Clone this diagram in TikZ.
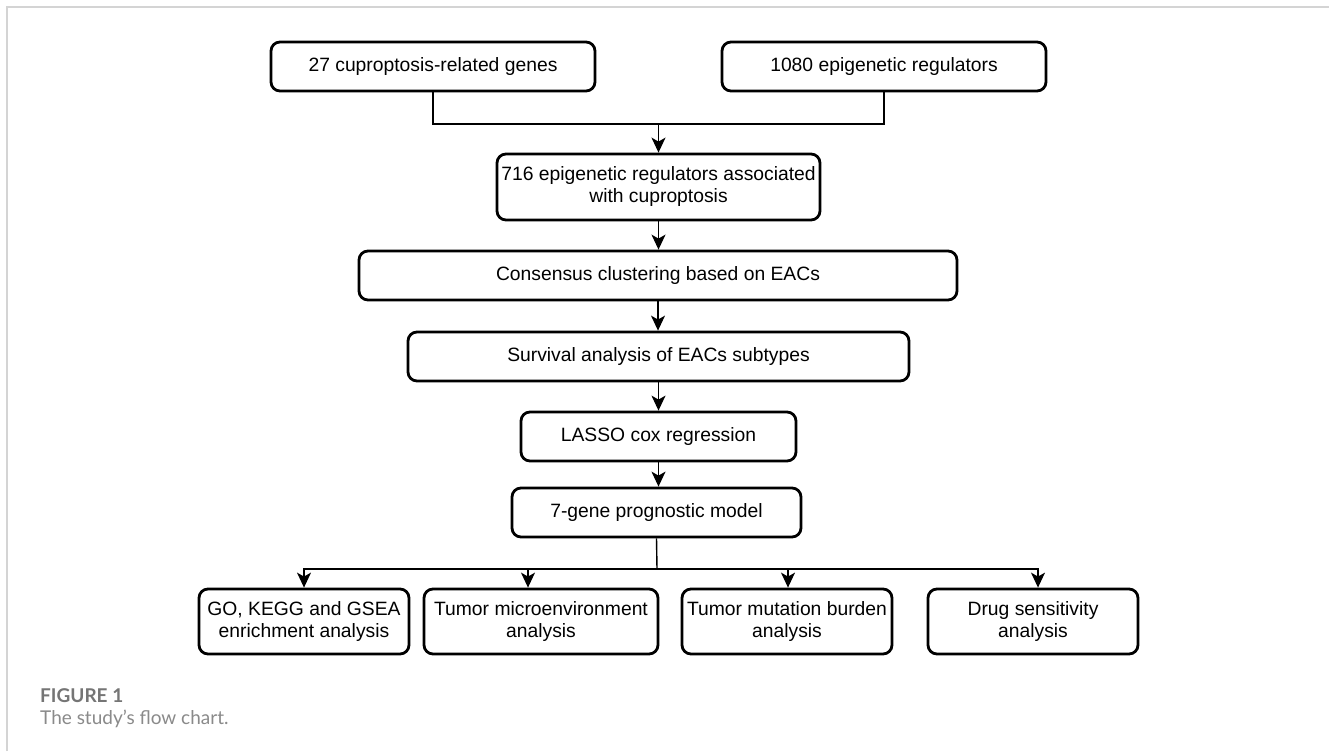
\documentclass[tikz,border=0pt]{standalone}
\usepackage{fontspec}
\setmainfont{Liberation Sans}
\newfontfamily\capfont{Lato}
\usetikzlibrary{arrows.meta}
\definecolor{framegray}{HTML}{D4D4D4}
\definecolor{capgray}{HTML}{757575}
\definecolor{capgraylight}{HTML}{8A8A8A}
\tikzset{
  flowbox/.style={draw=black, line width=2.8bp, rounded corners=9bp, align=center,
    inner sep=0pt, font=\fontsize{19.3bp}{22bp}\selectfont, text=black},
  conn/.style={draw=black, line width=1.4bp},
  arr/.style={conn, -{Stealth[length=15bp, width=14bp, inset=4bp]}},
}
\begin{document}
\begin{tikzpicture}[x=1bp, y=-1bp]
\useasboundingbox (0,0) rectangle (1329,751);
\fill[white] (0,0) rectangle (1329,751);
% frame
\draw[framegray, line width=1.5bp] (7,751) -- (7,7) -- (1329,7);
% boxes
\node[flowbox, minimum width=324bp, minimum height=49bp] (b1) at (433,66.5) {27 cuproptosis-related genes};
\node[flowbox, minimum width=324bp, minimum height=49bp] (b2) at (884,66.5) {1080 epigenetic regulators};
\node[flowbox, minimum width=323bp, minimum height=66bp] (b3) at (658.5,187) {716 epigenetic regulators associated\\with cuproptosis};
\node[flowbox, minimum width=598bp, minimum height=49bp] (b4) at (658,275.5) {Consensus clustering based on EACs};
\node[flowbox, minimum width=501bp, minimum height=49bp] (b5) at (658.5,356.5) {Survival analysis of EACs subtypes};
\node[flowbox, minimum width=275bp, minimum height=49bp] (b6) at (658.5,436.5) {LASSO cox regression};
\node[flowbox, minimum width=289bp, minimum height=49bp] (b7) at (656.5,512.5) {7-gene prognostic model};
\node[flowbox, minimum width=210bp, minimum height=65bp] (bA) at (304,621.5) {GO, KEGG and GSEA\\enrichment analysis};
\node[flowbox, minimum width=234bp, minimum height=65bp] (bB) at (541,621.5) {Tumor microenvironment\\analysis};
\node[flowbox, minimum width=210bp, minimum height=65bp] (bC) at (787,621.5) {Tumor mutation burden\\analysis};
\node[flowbox, minimum width=210bp, minimum height=65bp] (bD) at (1033,621.5) {Drug sensitivity\\analysis};
% connectors
\coordinate (j) at (658.5,124);
\draw[conn] (b1.south) |- (j);
\draw[conn] (b2.south) |- (j);
\draw[arr] (j) -- (b3.north);
\draw[arr] (b3.south) -- (b3.south |- b4.north);
\draw[arr] (b4.south) -- (b4.south |- b5.north);
\draw[arr] (b5.south) -- (b5.south |- b6.north);
\draw[arr] (b6.south) -- (b6.south |- b7.north);
\coordinate (k) at (657,569);
\draw[conn] (b7.south) -- (k);
\draw[arr] (k) -| (bA.north);
\draw[arr] (k) -| ([xshift=-13bp]bB.north);
\draw[arr] (k) -| ([xshift=1bp]bC.north);
\draw[arr] (k) -| ([xshift=5bp]bD.north);
% caption
\node[anchor=base west, inner sep=0pt, text=capgray, font=\capfont\bfseries\fontsize{19bp}{22bp}\selectfont] (cap1) at (40,702) {FIGURE 1};
\node[anchor=base west, inner sep=0pt, text=capgraylight, font=\capfont\fontsize{19bp}{22bp}\selectfont] (cap2) at (40,724) {The study’s flow chart.};
\end{tikzpicture}
\end{document}
